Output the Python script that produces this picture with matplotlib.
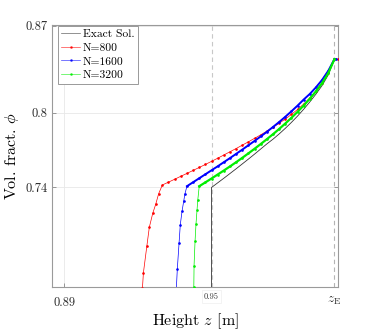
import numpy as np
import matplotlib
matplotlib.use("Agg")
import matplotlib.pyplot as plt

plt.rcParams["font.family"] = "serif"
plt.rcParams["font.serif"] = ["cmr10", "DejaVu Serif"]
plt.rcParams["mathtext.fontset"] = "cm"
plt.rcParams["axes.formatter.use_mathtext"] = True

# ------------------------------------------------------------
# Donnees
# ------------------------------------------------------------

# solution exacte : front vertical a z = 0.95 puis profil
z_exact = [0.9500, 0.9500, 0.9525, 0.9550, 0.9575, 0.9600, 0.9625, 0.9650,
           0.9675, 0.9700, 0.9725, 0.9750, 0.9775, 0.9800, 0.9825, 0.9850,
           0.9875, 0.9900, 0.9925, 0.9950, 0.9975, 1.0000]
phi_exact = [0.6500, 0.7400, 0.7437, 0.7474, 0.7512, 0.7550, 0.7589, 0.7628,
             0.7668, 0.7709, 0.7750, 0.7788, 0.7830, 0.7875, 0.7923, 0.7974,
             0.8029, 0.8088, 0.8151, 0.8220, 0.8305, 0.8431]

# N = 800
z_800 = [0.9211, 0.9219, 0.9223, 0.9237, 0.9247, 0.9261, 0.9273, 0.9285,
         0.9300, 0.9325, 0.9350, 0.9375, 0.9400, 0.9425, 0.9450, 0.9475,
         0.9500, 0.9525, 0.9550, 0.9575, 0.9600, 0.9625, 0.9650, 0.9675,
         0.9700, 0.9725, 0.9750, 0.9775, 0.9800, 0.9825, 0.9850, 0.9875,
         0.9900, 0.9925, 0.9950, 0.9975, 1.0000, 1.0013]
phi_800 = [0.6450, 0.6590, 0.6715, 0.6930, 0.7080, 0.7193, 0.7265, 0.7350,
           0.7420, 0.7443, 0.7466, 0.7490, 0.7513, 0.7537, 0.7561, 0.7585,
           0.7610, 0.7635, 0.7661, 0.7687, 0.7713, 0.7740, 0.7767, 0.7795,
           0.7823, 0.7853, 0.7884, 0.7916, 0.7950, 0.7987, 0.8027, 0.8071,
           0.8120, 0.8176, 0.8240, 0.8320, 0.8431, 0.8431]

# N = 1600
z_1600 = [0.9356, 0.9361, 0.9368, 0.9373, 0.9380, 0.9387, 0.9392, 0.9400,
          0.9425, 0.9450, 0.9475, 0.9500, 0.9525, 0.9550, 0.9575, 0.9600,
          0.9625, 0.9650, 0.9675, 0.9700, 0.9725, 0.9750, 0.9775, 0.9800,
          0.9825, 0.9850, 0.9875, 0.9900, 0.9925, 0.9950, 0.9975, 1.0000,
          1.0006]
phi_1600 = [0.6550, 0.6748, 0.6954, 0.7101, 0.7208, 0.7291, 0.7350, 0.7410,
            0.7442, 0.7474, 0.7506, 0.7538, 0.7570, 0.7603, 0.7636, 0.7670,
            0.7704, 0.7739, 0.7774, 0.7810, 0.7847, 0.7886, 0.7926, 0.7968,
            0.8012, 0.8058, 0.8107, 0.8152, 0.8205, 0.8265, 0.8338, 0.8431,
            0.8431]

# N = 3200
z_3200 = [0.9427, 0.9428, 0.9429, 0.9433, 0.9437, 0.9441, 0.9444, 0.9450,
          0.9475, 0.9500, 0.9525, 0.9550, 0.9575, 0.9600, 0.9625, 0.9650,
          0.9675, 0.9700, 0.9725, 0.9750, 0.9775, 0.9800, 0.9825, 0.9850,
          0.9875, 0.9900, 0.9925, 0.9950, 0.9975, 1.0000]
phi_3200 = [0.6500, 0.6601, 0.6772, 0.6967, 0.7110, 0.7216, 0.7296, 0.7410,
            0.7441, 0.7472, 0.7504, 0.7536, 0.7569, 0.7603, 0.7638, 0.7674,
            0.7711, 0.7749, 0.7788, 0.7828, 0.7870, 0.7914, 0.7960, 0.8008,
            0.8059, 0.8114, 0.8173, 0.8240, 0.8320, 0.8431]

i_kink = 7       # indice du coude (debut de la partie lisse) pour N=1600 / 3200
z_shock = 0.95
z_E = 1.0

# ------------------------------------------------------------
# Figure
# ------------------------------------------------------------

fig = plt.figure(figsize=(3.74, 3.31), dpi=100)
ax = fig.add_axes([0.139, 0.133, 0.765, 0.791])

ax.axvline(z_shock, color="#c8c8c8", linewidth=0.8, linestyle=(0, (4, 3)), zorder=1)
ax.axvline(z_E, color="#b4b4b4", linewidth=0.8, linestyle=(0, (4, 3)), zorder=1)

ax.plot(z_exact, phi_exact, color="#333333", linewidth=0.6, label="Exact Sol.", zorder=3)
ax.plot(z_800, phi_800, color="#ff0000", linewidth=0.5, marker=".",
        markersize=1.8, label="N=800", zorder=4)
ax.plot(z_1600, phi_1600, color="#0000ff", linewidth=0.5, marker=".",
        markersize=1.8, label="N=1600", zorder=4)
ax.plot(z_1600[i_kink:], phi_1600[i_kink:], color="#0000ff", linewidth=1.4, zorder=4)
ax.plot(z_3200, phi_3200, color="#00ee00", linewidth=0.5, marker=".",
        markersize=1.8, label="N=3200", zorder=4)
ax.plot(z_3200[i_kink:], phi_3200[i_kink:], color="#00ee00", linewidth=1.6, zorder=4)

ax.set_xlim(0.8851, 1.0015)
ax.set_ylim(0.660, 0.8705)
ax.set_xticks([0.89])
ax.set_xticklabels(["0.89"])
ax.set_yticks([0.74, 0.8, 0.87])
ax.set_yticklabels(["0.74", "0.8", "0.87"])
ax.tick_params(direction="in", length=3, width=0.6, color="#888888",
               labelsize=9, labelcolor="#262626", top=True, right=True)
ax.tick_params(axis="x", pad=7)
ax.tick_params(axis="y", pad=3)
ax.grid(True, color="#e8e8e8", linewidth=0.6)
ax.set_axisbelow(True)
for s in ax.spines.values():
    s.set_color("#9a9a9a")
    s.set_linewidth(0.8)

# etiquettes speciales sur l'axe des z
ax.text(z_shock, 0.6525, "0.95", fontsize=6, ha="center", va="center",
        color="#333333",
        bbox=dict(facecolor="white", edgecolor="#eeeeee", linewidth=0.5, pad=1.5))
ax.text(z_E, 0.6485, r"$z_{\rm E}$", fontsize=9.5, ha="center", va="center",
        color="#262626")

ax.set_xlabel(r"Height $z$ [m]", fontsize=11.5, labelpad=2)
ax.set_ylabel(r"Vol. fract. $\phi$", fontsize=11.5, labelpad=3)

leg = ax.legend(loc="upper left", bbox_to_anchor=(0.021, 0.997), fontsize=8.3,
                handlelength=1.65, handletextpad=0.2, borderpad=0.3,
                labelspacing=0.3, borderaxespad=0.0,
                fancybox=False, framealpha=1, edgecolor="#999999", numpoints=1)
leg.get_frame().set_linewidth(0.7)
for h in leg.get_lines():
    h.set_linewidth(0.5)
    h.set_alpha(0.75)

fig.savefig("out.png", dpi=100)
